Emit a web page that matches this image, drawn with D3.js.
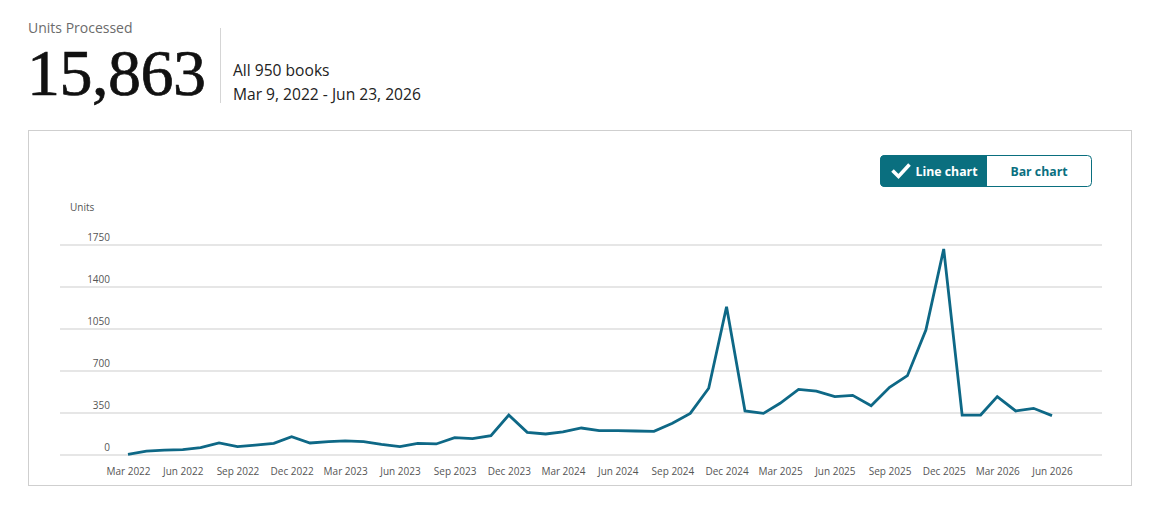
<!DOCTYPE html>
<html><head><meta charset="utf-8">
<script src="https://cdn.jsdelivr.net/npm/d3@7"></script>
<style>
html,body{margin:0;padding:0;background:#fff;}
svg{display:block;}
</style></head>
<body>
<svg id="c" width="1158" height="514"></svg>
<script>
const months = [
 "2022-03","2022-04","2022-05","2022-06","2022-07","2022-08","2022-09","2022-10","2022-11","2022-12",
 "2023-01","2023-02","2023-03","2023-04","2023-05","2023-06","2023-07","2023-08","2023-09","2023-10","2023-11","2023-12",
 "2024-01","2024-02","2024-03","2024-04","2024-05","2024-06","2024-07","2024-08","2024-09","2024-10","2024-11","2024-12",
 "2025-01","2025-02","2025-03","2025-04","2025-05","2025-06","2025-07","2025-08","2025-09","2025-10","2025-11","2025-12",
 "2026-01","2026-02","2026-03","2026-04","2026-05","2026-06"];
const units = [
 5,33,40,44,61,100,70,83,97,153,
 100,111,117,111,89,70,97,92,144,136,161,333,
 189,175,192,225,203,203,200,197,264,347,556,1236,
 367,347,431,547,533,486,497,411,564,661,1042,1717,
 333,333,486,367,389,328];
const tickMonths = ["2022-03","2022-06","2022-09","2022-12","2023-03","2023-06","2023-09","2023-12","2024-03","2024-06","2024-09","2024-12","2025-03","2025-06","2025-09","2025-12","2026-03","2026-06"];
const tickLabels = ["Mar 2022","Jun 2022","Sep 2022","Dec 2022","Mar 2023","Jun 2023","Sep 2023","Dec 2023","Mar 2024","Jun 2024","Sep 2024","Dec 2024","Mar 2025","Jun 2025","Sep 2025","Dec 2025","Mar 2026","Jun 2026"];
const yTicks = [0,350,700,1050,1400,1750];
const totalUnits = "15,863";
const bookLabel = "All 950 books";
const dateRange = "Mar 9, 2022 - Jun 23, 2026";

const svg = d3.select("#c");
const sans = "'Open Sans', 'Noto Sans', sans-serif";
const teal = "#0a6f7f";
const lineColor = "#0e6886";

// Header
svg.append("text").attr("x",28).attr("y",33).attr("font-family",sans).attr("font-size",14).attr("fill","#6b6b6b").text("Units Processed");
svg.append("text").attr("x",27).attr("y",95).attr("font-family","'Liberation Serif', 'DejaVu Serif', serif").attr("font-size",66).attr("fill","#111").attr("stroke","#111").attr("stroke-width",0.7).attr("letter-spacing",-0.5).text(totalUnits);
svg.append("line").attr("x1",220.5).attr("x2",220.5).attr("y1",28).attr("y2",103).attr("stroke","#d5d5d5").attr("stroke-width",1);
svg.append("text").attr("x",233).attr("y",76).attr("font-family",sans).attr("font-size",15.6).attr("fill","#222").text(bookLabel);
svg.append("text").attr("x",233).attr("y",100).attr("font-family",sans).attr("font-size",15.6).attr("fill","#222").text(dateRange);

// Panel
svg.append("rect").attr("x",28.5).attr("y",130.5).attr("width",1103).attr("height",355).attr("fill","#fff").attr("stroke","#cfcfcf").attr("stroke-width",1);

// Toggle buttons
const bx=880.5, by=155.5, bw1=106, bw2=105, bh=31;
svg.append("rect").attr("x",bx).attr("y",by).attr("width",bw1+bw2).attr("height",bh).attr("rx",4).attr("fill","#fff").attr("stroke",teal).attr("stroke-width",1);
svg.append("path").attr("d",`M${bx+4},${by} H${bx+bw1} V${by+bh} H${bx+4} Q${bx},${by+bh} ${bx},${by+bh-4} V${by+4} Q${bx},${by} ${bx+4},${by} Z`).attr("fill",teal).attr("stroke",teal);
svg.append("path").attr("d",`M${bx+12},${by+15} L${bx+18},${by+21} L${bx+29},${by+9}`).attr("fill","none").attr("stroke","#fff").attr("stroke-width",3.6).attr("stroke-linecap","butt");
svg.append("text").attr("x",bx+35).attr("y",by+20).attr("font-family",sans).attr("font-weight",700).attr("font-size",12.3).attr("fill","#fff").text("Line chart");
svg.append("text").attr("x",bx+bw1+bw2/2).attr("y",by+20).attr("text-anchor","middle").attr("font-family",sans).attr("font-weight",700).attr("font-size",12.3).attr("fill",teal).text("Bar chart");

// Scales
const parse = d3.timeParse("%Y-%m");
const x = d3.scaleTime().domain([parse(months[0]), parse(months[months.length-1])]).range([128,1052]);
const y = d3.scaleLinear().domain([0,1750]).range([455,245]);

// Grid + y labels
const g = svg.append("g");
g.selectAll("line.grid").data(yTicks).join("line").attr("class","grid")
 .attr("x1",60).attr("x2",1102).attr("y1",d=>y(d)).attr("y2",d=>y(d))
 .attr("stroke","#dedede").attr("stroke-width",1.5);
g.selectAll("text.yl").data(yTicks).join("text").attr("class","yl")
 .attr("x",110).attr("y",d=>y(d)-4).attr("text-anchor","end")
 .attr("font-family",sans).attr("font-size",10).attr("fill","#555").text(d=>d);
svg.append("text").attr("x",70).attr("y",211).attr("font-family",sans).attr("font-size",10).attr("fill","#555").text("Units");

// X axis labels
const xAxis = d3.axisBottom(x).tickValues(tickMonths.map(parse)).tickSize(0).tickPadding(0)
  .tickFormat((d,i)=>tickLabels[i]);
const xa = svg.append("g").attr("transform","translate(0,468)").call(xAxis);
xa.select(".domain").remove();
xa.selectAll("text").attr("font-family",sans).attr("font-size",10).attr("fill","#555").attr("dy","0.71em");

// Line
const line = d3.line().x((d,i)=>x(parse(months[i]))).y(d=>y(d));
svg.append("path").datum(units).attr("d",line).attr("fill","none").attr("stroke",lineColor).attr("stroke-width",2.8).attr("stroke-linejoin","miter");
</script>
</body></html>
